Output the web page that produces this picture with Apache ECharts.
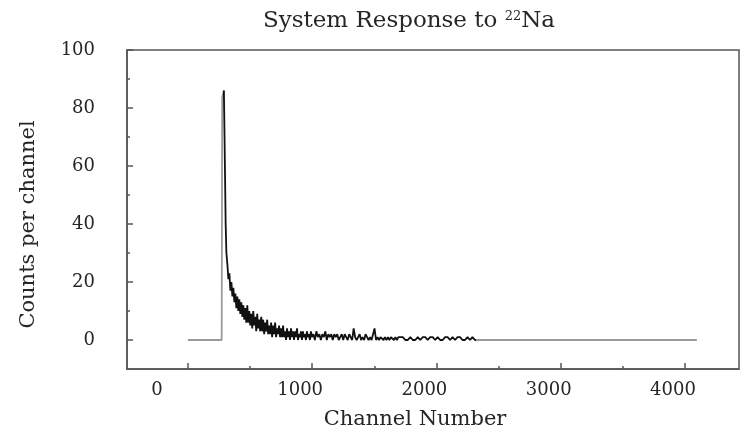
<!DOCTYPE html>
<html>
<head>
<meta charset="utf-8">
<script src="https://cdn.jsdelivr.net/npm/echarts@6/dist/echarts.min.js"></script>
<style>
html,body{margin:0;padding:0;background:#fff;}
#chart{width:742px;height:437px;}
</style>
</head>
<body>
<div id="chart"></div>
<script>
var titleText = 'System Response to ';
var isotopeMass = '22';
var isotopeSymbol = 'Na';
var xAxisName = 'Channel Number';
var yAxisName = 'Counts per channel';
var xTickValues = [0, 1000, 2000, 3000, 4000];
var xMinorTickValues = [500, 1500, 2500, 3500];
var yTickValues = [0, 20, 40, 60, 80, 100];
var yMinorTickValues = [10, 30, 50, 70, 90];

var channels = [0, 272, 276, 290, 298, 304, 310,
  318, 326, 334, 342, 350, 358, 366, 374, 382, 390, 398, 406, 414, 422, 430, 438, 446, 454, 462, 470,
  478, 486, 494, 502, 510, 518, 526, 534, 542, 550, 558, 566, 574, 582, 590, 598, 606, 614, 622, 630,
  638, 646, 654, 662, 670, 678, 686, 694, 702, 710, 718, 726, 734, 742, 750, 758, 766, 774, 782, 790,
  798, 806, 814, 822, 830, 838, 846, 854, 862, 870, 878, 886, 894, 902, 910, 918, 926, 934, 942, 950,
  958, 966, 974, 982, 990, 998,
  1010, 1022, 1034, 1046, 1058, 1070, 1082, 1094, 1106, 1118, 1130, 1142, 1154, 1166, 1178, 1190,
  1202, 1214, 1226, 1238, 1250, 1262, 1274, 1286, 1298, 1310, 1322, 1334, 1346, 1358, 1370, 1382,
  1394, 1406, 1418, 1430, 1442, 1454, 1466, 1478, 1490, 1502, 1514, 1526, 1538, 1550, 1562, 1574,
  1586, 1598, 1610, 1622, 1634, 1646, 1658, 1670, 1682, 1694,
  1710, 1730, 1750, 1770, 1790, 1810, 1830, 1850, 1870, 1890, 1910, 1930, 1950, 1970, 1990, 2010,
  2030, 2050, 2070, 2090, 2110, 2130, 2150, 2170, 2190, 2210, 2230, 2250, 2270, 2290, 2310, 4096];

var counts = [0, 0, 84, 86, 60, 40, 30,
  26, 21, 23, 17, 20, 15, 18, 13, 16, 11, 15, 10, 14, 9, 13, 8, 12, 7, 11, 6,
  12, 6, 10, 5, 9, 4, 10, 5, 8, 3, 9, 4, 7, 3, 8, 3, 7, 2, 6, 3,
  7, 2, 5, 2, 6, 1, 5, 2, 6, 1, 4, 2, 5, 1, 4, 1, 5, 1, 3, 0,
  4, 1, 3, 0, 4, 1, 3, 0, 3, 1, 4, 0, 2, 1, 3, 0, 3, 1, 2, 0,
  3, 1, 2, 0, 3, 1,
  2, 0, 3, 1, 2, 0, 2, 1, 3, 0, 2, 1, 2, 0, 2, 1,
  2, 0, 1, 2, 0, 2, 1, 0, 2, 1, 0, 4, 1, 0, 1, 2,
  0, 1, 0, 2, 1, 0, 1, 0, 2, 4, 0, 1, 0, 1, 1, 0,
  1, 0, 1, 0, 1, 1, 0, 1, 0, 1,
  1, 1, 0, 0, 1, 0, 0, 1, 0, 1, 1, 0, 1, 1, 0, 1,
  0, 0, 1, 1, 0, 1, 0, 1, 1, 0, 0, 1, 0, 1, 0, 0];

var seriesData = channels.map(function (c, i) { return [c, counts[i]]; });

var FONT = 'DejaVu Serif';
var TXT = '#262626';
var AX = '#555';

var chart = echarts.init(document.getElementById('chart'), null, {renderer: 'canvas'});
chart.setOption({
  animation: false,
  backgroundColor: '#fff',
  title: {
    text: titleText + '{sup|' + isotopeMass + '}' + isotopeSymbol,
    left: 404,
    textAlign: 'center',
    top: 5,
    textStyle: {
      fontFamily: FONT, fontSize: 23, fontWeight: 'normal', color: TXT,
      rich: {
        sup: {fontFamily: FONT, fontSize: 13, color: TXT, verticalAlign: 'top', padding: [0, 0, 9, 0]}
      }
    }
  },
  grid: {
    left: 127, right: 3, top: 50, bottom: 68,
    show: true, borderColor: AX, borderWidth: 1.5, backgroundColor: 'transparent'
  },
  visualMap: {
    show: false,
    type: 'piecewise',
    dimension: 0,
    seriesIndex: 0,
    pieces: [
      {lt: 280, color: '#9a9a9a'},
      {gte: 280, lte: 2320, color: '#111'},
      {gt: 2320, color: '#9a9a9a'}
    ]
  },
  xAxis: [{
    type: 'value', min: -490, max: 4435,
    name: xAxisName, nameLocation: 'middle', nameGap: 40,
    nameTextStyle: {fontFamily: FONT, fontSize: 21, color: TXT, padding: [0, 36, 0, 0]},
    axisLine: {onZero: false, lineStyle: {color: AX, width: 1.5}},
    axisTick: {inside: true, length: 6, customValues: xTickValues, lineStyle: {color: AX, width: 1.5}},
    axisLabel: {
      customValues: xTickValues, margin: 12,
      fontFamily: FONT, fontSize: 18, color: TXT,
      formatter: function (v) { return v === 0 ? '{z|0}' : '{n|' + v + '}'; },
      rich: {
        z: {fontFamily: FONT, fontSize: 18, color: TXT, padding: [0, 62, 0, 0]},
        n: {fontFamily: FONT, fontSize: 18, color: TXT, padding: [0, 24, 0, 0]}
      }
    },
    splitLine: {show: false}
  }, {
    type: 'value', min: -490, max: 4435, position: 'bottom',
    axisLine: {show: false, onZero: false},
    axisTick: {inside: true, length: 3, customValues: xMinorTickValues, lineStyle: {color: AX, width: 1.5}},
    axisLabel: {show: false},
    splitLine: {show: false}
  }],
  yAxis: [{
    type: 'value', min: -10, max: 100,
    name: yAxisName, nameLocation: 'middle', nameGap: 88,
    nameTextStyle: {fontFamily: FONT, fontSize: 21, color: TXT, padding: [0, 30, 0, 0]},
    axisLine: {onZero: false, lineStyle: {color: AX, width: 1.5}},
    axisTick: {inside: true, length: 6, customValues: yTickValues, lineStyle: {color: AX, width: 1.5}},
    axisLabel: {customValues: yTickValues, margin: 32, fontFamily: FONT, fontSize: 18, color: TXT},
    splitLine: {show: false}
  }, {
    type: 'value', min: -10, max: 100, position: 'left',
    axisLine: {show: false, onZero: false},
    axisTick: {inside: true, length: 3, customValues: yMinorTickValues, lineStyle: {color: AX, width: 1.5}},
    axisLabel: {show: false},
    splitLine: {show: false}
  }],
  series: [{
    type: 'line',
    xAxisIndex: 0, yAxisIndex: 0,
    data: seriesData,
    showSymbol: false,
    symbol: 'none',
    lineStyle: {width: 1.8},
    silent: true
  }]
});
</script>
</body>
</html>
